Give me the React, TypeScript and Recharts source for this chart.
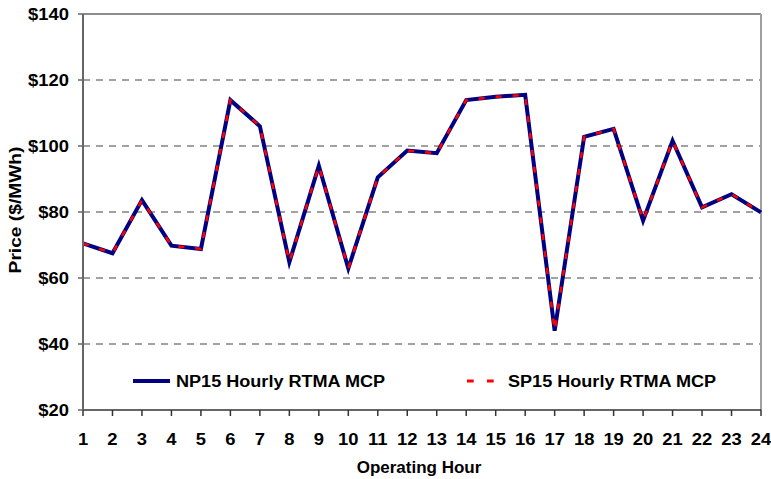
import React from "react";
import {
  LineChart,
  Line,
  XAxis,
  YAxis,
  CartesianGrid,
  Legend,
  Label,
  ReferenceLine,
} from "recharts";

const hours = [1, 2, 3, 4, 5, 6, 7, 8, 9, 10, 11, 12, 13, 14, 15, 16, 17, 18, 19, 20, 21, 22, 23, 24];
const np15 = [70.5, 67.5, 83.6, 69.8, 68.8, 113.9, 106.0, 64.8, 94.0, 62.9, 90.5, 98.6, 97.8, 113.9, 114.9, 115.5, 44.0, 102.8, 105.2, 77.4, 101.6, 81.4, 85.4, 79.9];
const sp15 = [70.5, 67.5, 83.6, 69.8, 68.8, 113.9, 106.0, 64.8, 94.0, 62.9, 90.5, 98.6, 97.8, 113.9, 114.9, 115.5, 44.0, 102.8, 105.2, 77.4, 101.6, 81.4, 85.4, 79.9];
const yTicks = [20, 40, 60, 80, 100, 120, 140];
const gridValues = [40, 60, 80, 100, 120];
const seriesNames = ["NP15 Hourly RTMA MCP", "SP15 Hourly RTMA MCP"];

const data = hours.map((h, i) => ({ hour: h, np15: np15[i], sp15: sp15[i] }));

const FONT = "'Liberation Sans', Arial, sans-serif";
const NAVY = "#000080";
const RED = "#ff0000";

const textStyle = (size: number): React.CSSProperties => ({
  fontSize: size,
  fontWeight: "bold",
  fontFamily: FONT,
  fill: "#000",
});

const XTick = (props: any) => {
  const { x, y, payload } = props;
  return (
    <text
      transform={`translate(${x},${y}) scale(1.15,1)`}
      textAnchor="middle"
      dy="0.71em"
      style={textStyle(16)}
    >
      {payload.value}
    </text>
  );
};

const YTick = (props: any) => {
  const { x, y, payload } = props;
  return (
    <text
      transform={`translate(${x},${y}) scale(1.15,1)`}
      textAnchor="end"
      dy="0.355em"
      style={textStyle(16)}
    >
      {"$" + payload.value}
    </text>
  );
};

const renderYTitle = (props: any) => {
  const vb = props.viewBox || { x: 0, y: 14, width: 83, height: 396 };
  const cx = vb.x + 15;
  const cy = vb.y + vb.height / 2 - 2;
  return (
    <text
      transform={`translate(${cx},${cy}) rotate(-90) scale(1.2,1.08)`}
      textAnchor="middle"
      dy="0.355em"
      style={textStyle(16)}
    >
      Price ($/MWh)
    </text>
  );
};

const renderXTitle = (props: any) => {
  const vb = props.viewBox || { x: 83, y: 410, width: 678, height: 69 };
  return (
    <text
      x={vb.x + vb.width / 2 - 3}
      y={vb.y + 63}
      textAnchor="middle"
      style={textStyle(17)}
    >
      Operating Hour
    </text>
  );
};

const renderLegend = () => (
  <svg width={771} height={26} style={{ display: "block" }}>
    <line x1={133} y1={13} x2={170} y2={13} stroke={NAVY} strokeWidth={4} />
    <text transform="translate(176,19) scale(1.13,1)" style={textStyle(16)}>
      {seriesNames[0]}
    </text>
    <line
      x1={467}
      y1={13}
      x2={494}
      y2={13}
      stroke={RED}
      strokeWidth={3}
      strokeDasharray="6.7 13.3"
    />
    <text transform="translate(508,19) scale(1.13,1)" style={textStyle(16)}>
      {seriesNames[1]}
    </text>
  </svg>
);

export default function App() {
  return (
    <div style={{ position: "absolute", left: 0, top: 0, background: "#fff" }}>
      <LineChart
        width={771}
        height={479}
        data={data}
        margin={{ top: 14, right: 10, left: 0, bottom: 0 }}
      >
        <CartesianGrid
          horizontal={true}
          vertical={false}
          horizontalValues={gridValues}
          stroke="#444"
          strokeWidth={1}
          strokeDasharray="7 6"
        />
        <ReferenceLine y={140} stroke="#8c8c8c" strokeWidth={2} />
        <ReferenceLine x={24} stroke="#a0a0a0" strokeWidth={2} />
        <XAxis
          dataKey="hour"
          height={69}
          interval={0}
          tickSize={6}
          tickMargin={18}
          stroke="#333"
          strokeWidth={1.5}
          tickLine={{ stroke: "#333", strokeWidth: 1.5 }}
          axisLine={{ stroke: "#333", strokeWidth: 1.5 }}
          tick={<XTick />}
        >
          <Label content={renderXTitle} />
        </XAxis>
        <YAxis
          width={83}
          domain={[20, 140]}
          ticks={yTicks}
          interval={0}
          tickSize={5}
          tickMargin={9}
          stroke="#666"
          tickLine={{ stroke: "#666", strokeWidth: 1.5 }}
          axisLine={{ stroke: "#666", strokeWidth: 2 }}
          tick={<YTick />}
          allowDataOverflow={true}
        >
          <Label content={renderYTitle} />
        </YAxis>
        <Legend
          layout="horizontal"
          verticalAlign="middle"
          content={renderLegend}
          wrapperStyle={{ top: 368, left: 0, width: 771, height: 26 }}
        />
        <Line
          type="linear"
          dataKey="np15"
          name={seriesNames[0]}
          stroke={NAVY}
          strokeWidth={4}
          dot={false}
          activeDot={false}
          isAnimationActive={false}
        />
        <Line
          type="linear"
          dataKey="sp15"
          name={seriesNames[1]}
          stroke={RED}
          strokeWidth={2.5}
          strokeDasharray="6 11"
          dot={false}
          activeDot={false}
          isAnimationActive={false}
        />
      </LineChart>
    </div>
  );
}
